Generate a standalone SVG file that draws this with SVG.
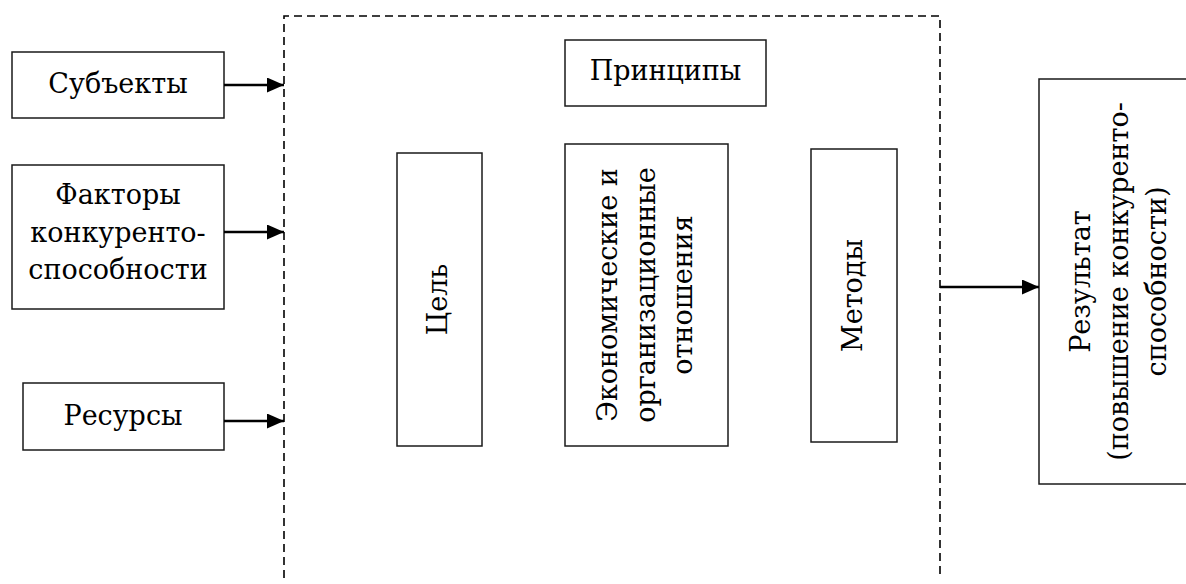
<svg xmlns="http://www.w3.org/2000/svg" width="1186" height="584" viewBox="0 0 1186 584">
  <style>
    .box { fill: #ffffff; stroke: #1a1a1a; stroke-width: 1.5; }
    .lbl { font-family: 'DejaVu Serif', serif; font-size: 27px; fill: #000000; text-anchor: middle; }
    .frame { fill: none; stroke: #000000; stroke-width: 1.6; stroke-dasharray: 8 5; }
    .arrow { fill: none; stroke: #000000; stroke-width: 2.6; marker-end: url(#head); }
  </style>
  <defs>
    <marker id="head" markerWidth="17" markerHeight="15" refX="17" refY="7.5" orient="auto" markerUnits="userSpaceOnUse">
      <path d="M0,0 L17,7.5 L0,15 Z" fill="#000000"/>
    </marker>
  </defs>
  <rect width="1186" height="584" fill="#ffffff"/>

  <!-- dashed boundary of the management system (open at the bottom) -->
  <path class="frame" d="M284,578 L284,16 L940,16 L940,578"/>

  <!-- inputs -->
  <g id="subjects">
    <rect class="box" x="12" y="52" width="212" height="66"/>
    <text class="lbl" x="118" y="93">Субъекты</text>
  </g>
  <g id="factors">
    <rect class="box" x="12" y="165" width="212" height="144"/>
    <text class="lbl" x="118" y="204">Факторы</text>
    <text class="lbl" x="118" y="242">конкуренто-</text>
    <text class="lbl" x="118" y="279">способности</text>
  </g>
  <g id="resources">
    <rect class="box" x="23" y="383" width="201" height="67"/>
    <text class="lbl" x="123" y="425">Ресурсы</text>
  </g>

  <!-- inner elements -->
  <g id="principles">
    <rect class="box" x="565" y="40" width="201" height="66"/>
    <text class="lbl" x="665.5" y="80">Принципы</text>
  </g>
  <g id="goal">
    <rect class="box" x="397" y="153" width="85" height="293"/>
    <text class="lbl" transform="translate(447,299.5) rotate(-90)">Цель</text>
  </g>
  <g id="relations">
    <rect class="box" x="565" y="144" width="163" height="302"/>
    <text class="lbl" transform="translate(617,295) rotate(-90)">Экономические и</text>
    <text class="lbl" transform="translate(654.5,295) rotate(-90)">организационные</text>
    <text class="lbl" transform="translate(692,295) rotate(-90)">отношения</text>
  </g>
  <g id="methods">
    <rect class="box" x="811" y="149" width="86" height="293"/>
    <text class="lbl" transform="translate(862,295.5) rotate(-90)">Методы</text>
  </g>

  <!-- output; its right edge runs past the page -->
  <g id="result">
    <rect class="box" x="1039" y="79" width="160" height="405"/>
    <text class="lbl" transform="translate(1090,281.5) rotate(-90)">Результат</text>
    <text class="lbl" transform="translate(1128,281.5) rotate(-90)">(повышение конкуренто-</text>
    <text class="lbl" transform="translate(1166,281.5) rotate(-90)">способности)</text>
  </g>

  <g id="connectors">
    <line class="arrow" x1="224" y1="85" x2="284" y2="85"/>
    <line class="arrow" x1="224" y1="232" x2="284" y2="232"/>
    <line class="arrow" x1="224" y1="421" x2="284" y2="421"/>
    <line class="arrow" x1="940" y1="287" x2="1039" y2="287"/>
  </g>
</svg>
